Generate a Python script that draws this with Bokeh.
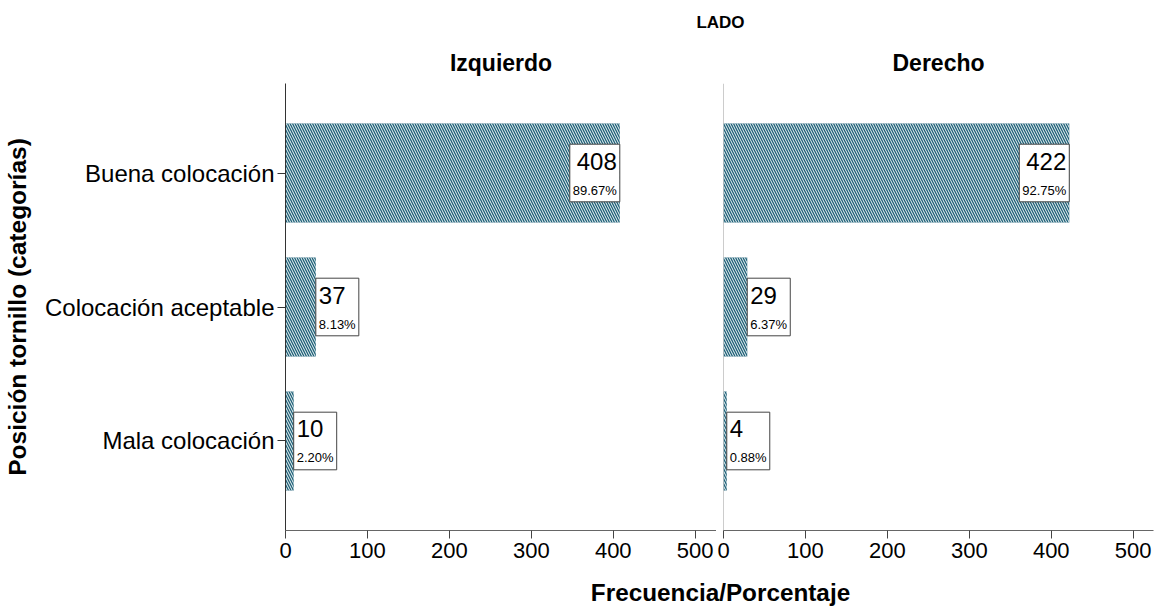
from bokeh.plotting import figure
from bokeh.models import Range1d, FactorRange, FixedTicker, Label, Span, ColumnDataSource
from bokeh.layouts import column, row
from bokeh.embed import file_html
from bokeh.resources import INLINE
from bokeh.core.properties import value

# ---------------- data ----------------
categories = ["Buena colocación", "Colocación aceptable", "Mala colocación"]
izquierdo_counts = [408, 37, 10]
izquierdo_pct = [89.67, 8.13, 2.20]
derecho_counts = [422, 29, 4]
derecho_pct = [92.75, 6.37, 0.88]
x_ticks = [0, 100, 200, 300, 400, 500]
panel_titles = ["Izquierdo", "Derecho"]
facet_title = "LADO"
x_title = "Frecuencia/Porcentaje"
y_title = "Posición tornillo (categorías)"

# ---------------- style ----------------
FONT = "Liberation Sans"
TEAL = "#1e6178"
LEFT_FRAME_PX = 431
LEFT_X_END = 526
K = LEFT_FRAME_PX / LEFT_X_END  # px per unit
RIGHT_FRAME_PX = 430
RIGHT_X_END = RIGHT_FRAME_PX / K


def panel(title, counts, pcts, width, b_left, b_right, x_end, left_axis):
    p = figure(width=width, height=530,
               x_range=Range1d(0, x_end),
               y_range=FactorRange(factors=list(reversed(categories)),
                                   range_padding=0.168, range_padding_units="absolute"),
               toolbar_location=None, output_backend="svg",
               min_border_left=b_left, min_border_right=b_right,
               min_border_top=43, min_border_bottom=40,
               y_axis_location="left" if left_axis else None,
               title=title)
    p.outline_line_color = None
    p.xgrid.visible = False
    p.ygrid.visible = False
    p.title.align = "center"
    p.title.text_font = FONT
    p.title.text_font_size = "23px"
    p.title.text_font_style = "bold"
    p.title.text_color = "black"
    p.title.standoff = 15

    src = ColumnDataSource(dict(cat=categories, count=counts))
    p.hbar(y="cat", left=0, right="count", height=0.74, source=src,
           fill_color=TEAL, line_color=None,
           hatch_pattern="left_diagonal_line", hatch_color="white",
           hatch_scale=5, hatch_weight=1.0, hatch_alpha=0.95)

    # label boxes
    groups = {"left": dict(cat=[], cx=[], w=[], tx=[], c=[], pc=[]),
              "right": dict(cat=[], cx=[], w=[], tx=[], c=[], pc=[])}
    for cat, c, pc in zip(categories, counts, pcts):
        ps = f"{pc:.2f}%"
        box_px = 7 * len(ps) + 8
        bw = box_px / K
        inside = c * K > box_px + 10
        g = groups["right" if inside else "left"]
        g["cat"].append(cat)
        g["w"].append(bw)
        g["c"].append(str(c))
        g["pc"].append(ps)
        if inside:
            g["cx"].append(c - bw / 2)
            g["tx"].append(c - 3 / K)
        else:
            g["cx"].append(c + bw / 2)
            g["tx"].append(c + 3 / K)
    for align, g in groups.items():
        if not g["cat"]:
            continue
        s = ColumnDataSource(g)
        p.rect(x="cx", y="cat", width="w", height=0.43, source=s,
               fill_color="white", line_color="#444", line_width=1)
        p.text(x="tx", y="cat", text="c", source=s, text_align=align,
               text_baseline="middle", y_offset=-12, text_font=value(FONT),
               text_font_size="24px", text_color="black")
        p.text(x="tx", y="cat", text="pc", source=s, text_align=align,
               text_baseline="middle", y_offset=17, text_font=value(FONT),
               text_font_size="13px", text_color="black")

    xa = p.xaxis[0]
    xa.ticker = FixedTicker(ticks=x_ticks)
    xa.major_label_text_font = FONT
    xa.major_label_text_font_size = "22px"
    xa.major_label_text_color = "black"
    xa.major_tick_out = 8
    xa.major_tick_in = 0
    xa.minor_tick_out = 0
    xa.minor_tick_in = 0
    xa.axis_line_color = "#666"
    xa.major_tick_line_color = "#444"
    xa.major_label_standoff = 4

    if left_axis:
        ya = p.yaxis[0]
        ya.major_label_text_font = FONT
        ya.major_label_text_font_size = "24px"
        ya.major_label_text_color = "black"
        ya.major_tick_out = 8
        ya.major_tick_in = 0
        ya.axis_line_color = "#333"
        ya.major_tick_line_color = "#333"
        ya.major_label_standoff = 3
        ya.axis_label = y_title
        ya.axis_label_text_font = FONT
        ya.axis_label_text_font_size = "24.5px"
        ya.axis_label_text_font_style = "bold"
        ya.axis_label_text_color = "black"
        ya.axis_label_standoff = 11
    else:
        p.add_layout(Span(location=0, dimension="height", line_color="#999",
                          line_width=1, level="underlay"))
    return p


def text_strip(h, text, x, y, size):
    f = figure(width=1159, height=h, x_range=Range1d(0, 1159), y_range=Range1d(h, 0),
               toolbar_location=None, output_backend="svg", min_border=0,
               x_axis_location=None, y_axis_location=None)
    f.outline_line_color = None
    f.xgrid.visible = False
    f.ygrid.visible = False
    f.add_layout(Label(x=x, y=y, text=text, text_align="center", text_baseline="middle",
                       text_font=FONT, text_font_size=size, text_font_style="bold",
                       text_color="black"))
    return f


left = panel(panel_titles[0], izquierdo_counts, izquierdo_pct, 716, 285, 0, LEFT_X_END, True)
right = panel(panel_titles[1], derecho_counts, derecho_pct, 443, 7, 6, RIGHT_X_END, False)
top = text_strip(40, facet_title, 720, 22, "17px")
bottom = text_strip(37, x_title, 720, 22, "24.3px")

layout = column(top, row(left, right), bottom)
open("out.html", "w").write(file_html(layout, INLINE))
